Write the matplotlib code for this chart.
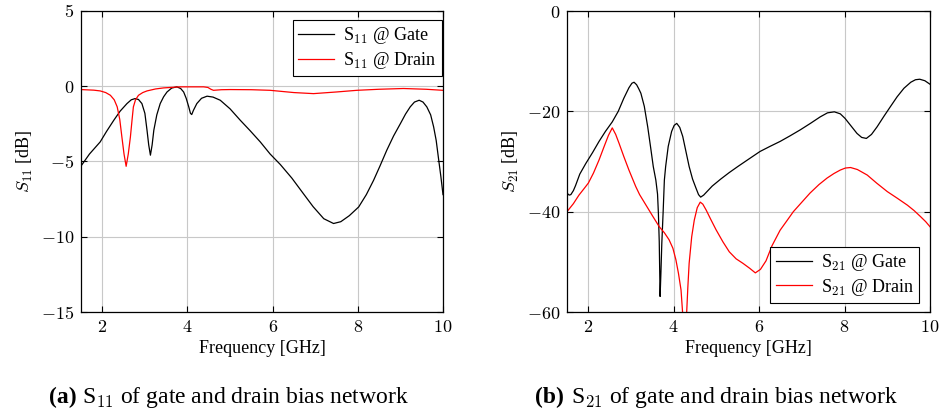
import numpy as np
import matplotlib.pyplot as plt

plt.rcParams['font.family'] = ['Liberation Serif', 'DejaVu Serif']
plt.rcParams['mathtext.fontset'] = 'cm'

# S11 traces (frequency in GHz, magnitude in dB)
f_s11_gate = [1.5, 1.7, 1.95, 2.1, 2.27, 2.42, 2.58, 2.68, 2.77, 2.85, 2.93,
              3.0, 3.05, 3.09, 3.13, 3.17, 3.21, 3.28, 3.36, 3.44, 3.52, 3.63,
              3.75, 3.84, 3.91, 3.97, 4.03, 4.07, 4.1, 4.14, 4.22, 4.33, 4.46,
              4.6, 4.77, 5.0, 5.24, 5.47, 5.71, 5.94, 6.18, 6.45, 6.72, 6.95,
              7.2, 7.43, 7.6, 7.8, 8.02, 8.2, 8.37, 8.52, 8.68, 8.84, 9.0,
              9.12, 9.23, 9.33, 9.44, 9.53, 9.62, 9.71, 9.78, 9.84, 9.89, 9.95,
              10.0]
s11_gate = [-5.3, -4.5, -3.7, -3.0, -2.26, -1.65, -1.15, -0.9, -0.82, -0.88,
            -1.15, -1.8, -2.92, -3.9, -4.58, -3.9, -2.92, -1.9, -1.15, -0.7,
            -0.38, -0.12, -0.04, -0.15, -0.38, -0.8, -1.37, -1.8, -1.88, -1.6,
            -1.15, -0.8, -0.66, -0.72, -0.93, -1.5, -2.26, -2.95, -3.7, -4.5,
            -5.2, -6.1, -7.13, -8.0, -8.8, -9.12, -9.0, -8.6, -8.02, -7.2,
            -6.25, -5.3, -4.25, -3.3, -2.48, -1.85, -1.37, -1.05, -0.93, -1.05,
            -1.37, -1.9, -2.7, -3.6, -4.7, -6.0, -7.2]

f_s11_drain = [1.5, 1.8, 1.95, 2.08, 2.19, 2.28, 2.35, 2.41, 2.46, 2.51, 2.56,
               2.61, 2.66, 2.7, 2.73, 2.78, 2.85, 2.95, 3.05, 3.25, 3.44, 3.83,
               4.38, 4.48, 4.55, 4.61, 4.8, 5.0, 5.5, 5.94, 6.5, 6.96, 7.5,
               7.98, 8.5, 9.07, 9.6, 10.0]
s11_drain = [-0.22, -0.26, -0.31, -0.42, -0.6, -0.9, -1.37, -2.2, -3.37, -4.5,
             -5.32, -4.5, -3.37, -2.2, -1.37, -0.9, -0.6, -0.42, -0.31, -0.18,
             -0.11, -0.04, -0.04, -0.08, -0.2, -0.27, -0.23, -0.22, -0.23,
             -0.27, -0.42, -0.49, -0.38, -0.27, -0.2, -0.15, -0.2, -0.27]

# S21 traces
f_s21_gate = [1.5, 1.55, 1.59, 1.65, 1.7, 1.8, 1.94, 2.1, 2.25, 2.4, 2.56, 2.7,
              2.83, 2.95, 3.02, 3.07, 3.13, 3.18, 3.23, 3.31, 3.39, 3.46, 3.52,
              3.58, 3.62, 3.64, 3.66, 3.68, 3.7, 3.72, 3.75, 3.78, 3.81, 3.87,
              3.95, 4.01, 4.07, 4.14, 4.21, 4.28, 4.36, 4.44, 4.52, 4.58, 4.63,
              4.7, 4.8, 4.9, 5.1, 5.3, 5.5, 5.69, 6.02, 6.25, 6.49, 6.72, 6.96,
              7.2, 7.43, 7.6, 7.76, 7.9, 8.01, 8.15, 8.29, 8.4, 8.51, 8.63,
              8.76, 8.92, 9.07, 9.23, 9.39, 9.55, 9.66, 9.76, 9.88, 10.0]
s21_gate = [-36.3, -36.7, -36.6, -35.8, -34.8, -32.5, -30.4, -28.2, -26.0,
            -24.0, -22.1, -20.0, -17.4, -15.3, -14.4, -14.2, -14.7, -15.5,
            -16.4, -19.0, -23.1, -27.3, -31.0, -33.7, -36.5, -40.3, -46.0,
            -56.9, -52.0, -46.3, -40.3, -33.7, -31.0, -27.0, -24.0, -22.8,
            -22.4, -23.2, -25.0, -27.8, -31.0, -33.5, -35.3, -36.6, -37.1,
            -36.7, -35.8, -34.9, -33.5, -32.2, -31.0, -29.9, -28.0, -27.0,
            -26.0, -24.9, -23.7, -22.4, -21.1, -20.3, -20.1, -20.5, -21.4,
            -22.9, -24.4, -25.2, -25.4, -24.6, -23.1, -21.0, -19.1, -17.1,
            -15.4, -14.2, -13.7, -13.6, -13.9, -14.6]

f_s21_drain = [1.5, 1.65, 1.78, 1.9, 2.0, 2.12, 2.25, 2.37, 2.47, 2.56, 2.64,
               2.72, 2.83, 2.95, 3.11, 3.2, 3.35, 3.5, 3.66, 3.78, 3.89, 3.98,
               4.05, 4.11, 4.17, 4.21, 4.25, 4.3, 4.33, 4.36, 4.42, 4.48, 4.55,
               4.62, 4.68, 4.76, 4.87, 4.99, 5.15, 5.3, 5.46, 5.62, 5.78, 5.91,
               6.03, 6.16, 6.3, 6.49, 6.65, 6.8, 7.0, 7.19, 7.4, 7.59, 7.75,
               7.9, 8.02, 8.14, 8.3, 8.53, 8.75, 9.0, 9.23, 9.47, 9.63, 9.78,
               9.9, 10.0]
s21_drain = [-40.0, -38.4, -36.7, -35.4, -34.3, -32.3, -29.7, -27.0, -24.8,
             -23.3, -24.6, -26.4, -29.0, -31.7, -35.0, -36.6, -38.7, -40.8,
             -43.0, -44.2, -45.6, -47.3, -49.6, -52.3, -55.6, -60.5, -68.0,
             -60.5, -55.0, -50.3, -45.0, -41.7, -39.2, -38.1, -38.5, -39.7,
             -41.6, -43.6, -46.0, -48.0, -49.4, -50.3, -51.3, -52.2, -51.5,
             -49.8, -46.8, -43.7, -41.8, -40.0, -38.1, -36.3, -34.6, -33.3,
             -32.4, -31.7, -31.3, -31.2, -31.6, -32.7, -34.3, -36.0, -37.3,
             -38.7, -39.8, -41.0, -42.0, -43.0]

x_ticks = [2, 4, 6, 8, 10]
s11_ticks = [5, 0, -5, -10, -15]
s21_ticks = [0, -20, -40, -60]

fig = plt.figure(figsize=(9.44, 4.15), dpi=100)
W, H = 944, 415


def make_axes(x0, x1, y0, y1):
    return fig.add_axes([x0 / W, 1 - y1 / H, (x1 - x0) / W, (y1 - y0) / H])


def style(ax, yticks, ylabel):
    ax.set_xlim(1.5, 10)
    ax.set_ylim(min(yticks), max(yticks))
    ax.set_xticks(x_ticks)
    ax.set_xticklabels([f'${t}$' for t in x_ticks])
    ax.set_yticks(yticks)
    ax.set_yticklabels([f'${t}$' for t in yticks])
    ax.grid(True, color='#c8c8c8', linewidth=0.8)
    ax.set_axisbelow(True)
    ax.tick_params(direction='in', length=4, width=0.8, top=True, right=True,
                   labelsize=13, pad=5)
    for sp in ax.spines.values():
        sp.set_linewidth(0.9)
    ax.set_xlabel('Frequency [GHz]', fontsize=13, labelpad=3)
    ax.set_ylabel(ylabel, fontsize=13, labelpad=4)


legend_kw = dict(fontsize=13, fancybox=False, edgecolor='black',
                 framealpha=1, borderaxespad=0, handlelength=2.0,
                 handletextpad=0.5, labelspacing=0.2, borderpad=0.3)

ax1 = make_axes(81, 443, 11, 312)
ax1.plot(f_s11_gate, s11_gate, color='black', lw=0.9, label='S$_{11}$ @ Gate')
ax1.plot(f_s11_drain, s11_drain, color='red', lw=0.9, label='S$_{11}$ @ Drain')
style(ax1, s11_ticks, r'$S_{11}$ [dB]')
leg1 = ax1.legend(loc='upper right', bbox_to_anchor=(0.996, 0.97), **legend_kw)
leg1.get_frame().set_linewidth(0.8)

ax2 = make_axes(567, 930, 11, 312)
ax2.plot(f_s21_gate, s21_gate, color='black', lw=0.9, label='S$_{21}$ @ Gate')
ax2.plot(f_s21_drain, s21_drain, color='red', lw=0.9, label='S$_{21}$ @ Drain')
style(ax2, s21_ticks, r'$S_{21}$ [dB]')
leg2 = ax2.legend(loc='lower right', bbox_to_anchor=(0.97, 0.03), **legend_kw)
leg2.get_frame().set_linewidth(0.8)

# sub-figure captions
cap_y = 1 - 397 / H
fig.text(49 / W, cap_y, '(a)', fontsize=17, fontweight='bold', va='center')
fig.text(82 / W, cap_y, 'S$_{11}$ of gate and drain bias network', fontsize=17,
         va='center')
fig.text(535 / W, cap_y, '(b)', fontsize=17, fontweight='bold', va='center')
fig.text(571 / W, cap_y, 'S$_{21}$ of gate and drain bias network', fontsize=17,
         va='center')

fig.savefig('out.png', dpi=100)
